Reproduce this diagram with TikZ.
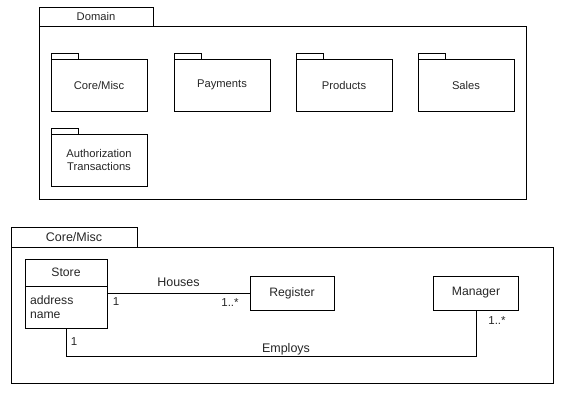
\documentclass[tikz,border=0pt]{standalone}
\usepackage{fontspec}
\setmainfont{Liberation Sans}
\usepackage{tikz}
\usetikzlibrary{positioning}

\begin{document}
\begin{tikzpicture}[
  x=1pt, y=-1pt,
  every node/.style={inner sep=0pt, outer sep=0pt, text=black!85},
  frame/.style={draw, line width=0.9pt, anchor=north west},
  frametab/.style={draw, line width=0.9pt, anchor=south west, minimum height=19pt},
  pkg/.style={draw, line width=0.9pt, minimum width=96pt, minimum height=52pt, align=center, font=\fontsize{11.2}{13.5}\selectfont},
  pkgtab/.style={draw, line width=0.9pt, anchor=south west, minimum width=27pt, minimum height=6pt},
  cls/.style={draw, line width=0.8pt, minimum height=34pt, font=\fontsize{12.2}{14.5}\selectfont},
  assoc/.style={line width=0.8pt},
  mult/.style={font=\fontsize{11.5}{13}\selectfont}
]
\useasboundingbox (0,0) rectangle (561,403);

% Domain package
\node[frame, minimum width=487pt, minimum height=173pt] (domain) at (39,26) {};
\node[frametab, minimum width=114pt, font=\fontsize{11.2}{13.5}\selectfont] (domaintab) at (domain.north west) {Domain};

\node[pkg] (coremisc) at (99,85) {Core/Misc};
\node[pkg] (payments) at (222,85) {Payments};
\node[pkg] (products) at (344,85) {Products};
\node[pkg] (sales) at (466,85) {Sales};
\node[pkg] (authtrans) at (99,160) {Authorization\\Transactions};
\foreach \p in {coremisc,payments,products,sales,authtrans}
  \node[pkgtab] at (\p.north west) {};

% Core/Misc package
\node[frame, minimum width=542pt, minimum height=136pt] (core) at (11,247) {};
\node[frametab, minimum width=126pt, minimum height=20pt, font=\fontsize{12.5}{14.5}\selectfont] (coretab) at (core.north west) {Core/Misc};

\node[cls, minimum width=82pt, minimum height=27pt] (store) at (66,272.5) {Store};
\node[cls, minimum width=82pt, minimum height=42pt, anchor=north, align=left, text width=72pt] (storeattr) at (store.south) {address\\name};
\node[cls, minimum width=84pt] (register) at (292,293) {Register};
\node[cls, minimum width=85pt] (manager) at (476,293) {Manager};

\draw[assoc] (register.west -| storeattr.east) -- node[above=6pt, font=\fontsize{12.5}{14.5}\selectfont]{Houses} (register.west);
\node[mult] at (116,302) {1};
\node[mult] at (230,303) {1..*};

\draw[assoc] (storeattr.south) -- ++(0,28) coordinate (bend) -| (manager.south);
\node[font=\fontsize{12.5}{14.5}\selectfont] (employs) at (286,349) {Employs};
\node[mult] at (74,342) {1};
\node[mult] at (497,321) {1..*};
\end{tikzpicture}
\end{document}
